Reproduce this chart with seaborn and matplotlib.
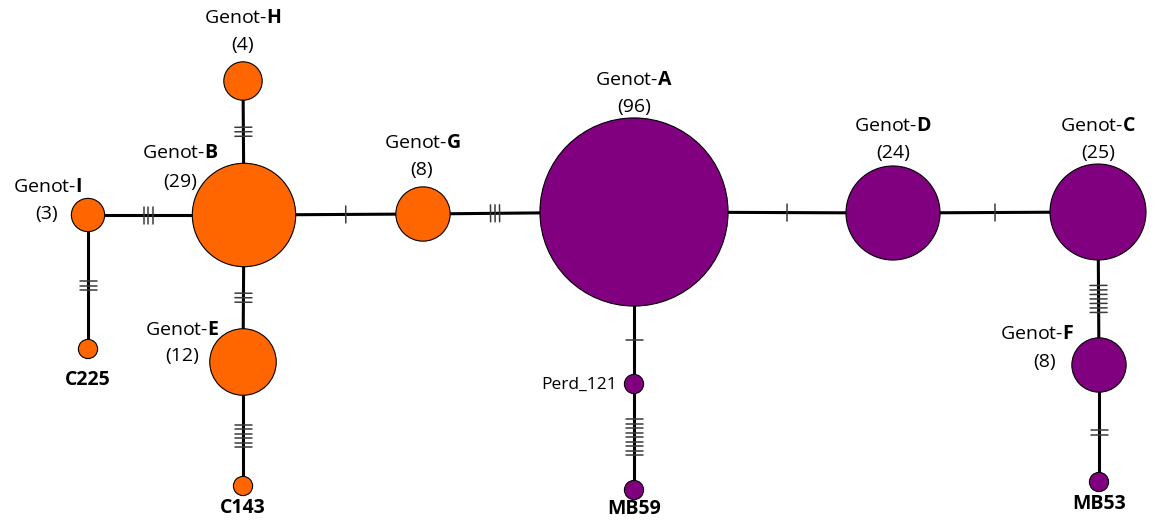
"""
Haplotype network of genotypes (median-joining style), drawn with seaborn.
"""
import numpy as np
import pandas as pd
import seaborn as sns
import matplotlib.pyplot as plt

# ---------------------------------------------------------------- data ------------------------------------------------ #
node_ids = ["I", "B", "H", "E", "G", "A", "D", "C", "F", "C225", "C143", "Perd_121", "MB59", "MB53"]
node_counts = [3, 29, 4, 12, 8, 96, 24, 25, 8, 1, 1, 1, 1, 1]
node_groups = ["orange"] * 5 + ["purple"] * 4 + ["orange", "orange", "purple", "purple", "purple"]
# layout of the network (pixel space, y down)
node_x = [88, 244, 243, 243, 423, 634, 893, 1098, 1099, 88, 243, 634, 634, 1099]
node_y = [215, 215, 81, 362, 214, 212, 213, 212, 365, 349, 486, 384, 490, 482]

edge_from = ["I", "B", "B", "E", "I", "B", "G", "A", "D", "A", "Perd_121", "C", "F"]
edge_to = ["B", "H", "E", "C143", "C225", "G", "A", "D", "C", "Perd_121", "MB59", "F", "MB53"]
edge_mutations = [3, 3, 3, 6, 3, 1, 3, 1, 1, 1, 9, 7, 2]

# genotype labels: name line, count line
genot_ids = ["H", "B", "I", "E", "G", "A", "D", "C", "F"]
genot_name_xy = [(243, 18), (180, 153), (47, 187), (182, 330), (422, 143),
                 (634, 80), (893, 126), (1098, 126), (1037, 334)]
genot_count_xy = [(243, 45), (180, 182), (47, 214), (182, 356), (422, 170),
                  (634, 107), (893, 153), (1098, 153), (1045, 362)]
sample_ids = ["C225", "C143", "MB59", "MB53"]
sample_xy = [(88, 380), (243, 508), (634, 509), (1099, 504)]

palette = {"orange": "#FF6600", "purple": "#800080"}
PX_TO_PT = 72 / 100
R_UNIT = 9.6  # radius in px of a node of count 1

df = pd.DataFrame({"id": node_ids, "count": node_counts, "group": node_groups,
                   "x": node_x, "y": node_y})
pos = {r.id: np.array([r.x, r.y], dtype=float) for r in df.itertuples()}
rad = {r.id: R_UNIT * np.sqrt(r.count) for r in df.itertuples()}

# ---------------------------------------------------------------- figure ---------------------------------------------- #
sns.set_theme(style="white")
plt.rcParams["font.family"] = ["Open Sans", "DejaVu Sans"]
plt.rcParams["text.color"] = "black"
plt.rcParams["mathtext.fontset"] = "custom"
plt.rcParams["mathtext.rm"] = "Open Sans"
plt.rcParams["mathtext.bf"] = "Open Sans:bold"

fig = plt.figure(figsize=(11.55, 5.2), dpi=100)
ax = fig.add_axes([0, 0, 1, 1])

# edges with mutation ticks
for a, b, n in zip(edge_from, edge_to, edge_mutations):
    pa, pb = pos[a], pos[b]
    ax.plot([pa[0], pb[0]], [pa[1], pb[1]], color="black", lw=2.2, zorder=1,
            solid_capstyle="butt")
    u = (pb - pa) / np.linalg.norm(pb - pa)
    perp = np.array([-u[1], u[0]])
    mid = ((pa + rad[a] * u) + (pb - rad[b] * u)) / 2
    for i in range(n):
        c = mid + (i - (n - 1) / 2) * 4.5 * u
        p1, p2 = c - 8.5 * perp, c + 8.5 * perp
        ax.plot([p1[0], p2[0]], [p1[1], p2[1]], color="#3a3a3a", lw=1.1, zorder=2)

# nodes, area proportional to count
k = (2 * R_UNIT * PX_TO_PT) ** 2
sns.scatterplot(data=df, x="x", y="y", hue="group", palette=palette,
                size="count", sizes=(k * 1, k * 96), size_norm=(1, 96),
                edgecolor="black", linewidth=0.8, alpha=1, legend=False,
                zorder=3, ax=ax)
ax.set_xlim(0, 1155)
ax.set_ylim(520, 0)
ax.axis("off")

# labels
fs = 14
for g, (nx, ny), (cx, cy) in zip(genot_ids, genot_name_xy, genot_count_xy):
    cnt = node_counts[node_ids.index(g)]
    ax.text(nx, ny, "Genot-$\\mathbf{" + g + "}$", ha="center", va="center", fontsize=fs)
    ax.text(cx, cy, f"({cnt})", ha="center", va="center", fontsize=fs)

ax.text(617, 385, "Perd_121", ha="right", va="center", fontsize=fs - 1.5)
for s, (sx, sy) in zip(sample_ids, sample_xy):
    ax.text(sx, sy, s, ha="center", va="center", fontsize=fs, fontweight="bold")

fig.savefig("out.png", dpi=100, facecolor="white")
